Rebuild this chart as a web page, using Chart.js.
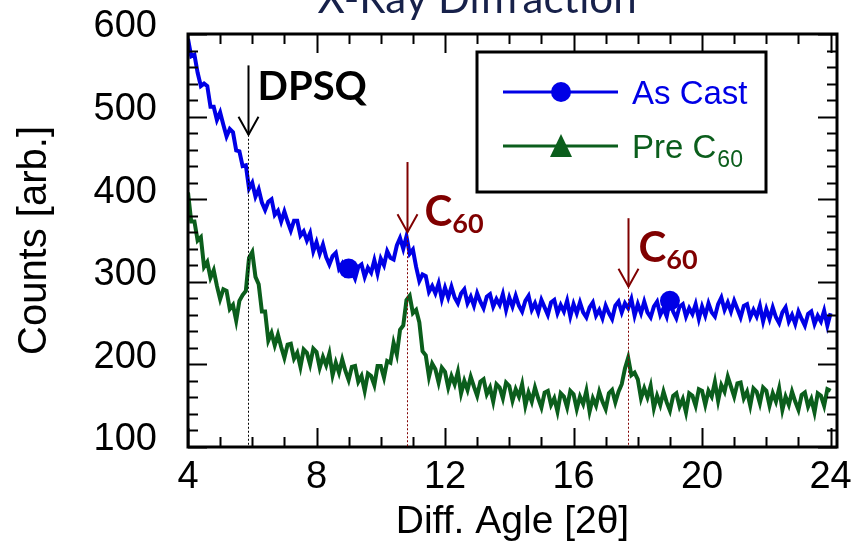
<!DOCTYPE html>
<html><head><meta charset="utf-8">
<style>html,body{margin:0;padding:0;background:#fff}#wrap{width:852px;height:546px;position:relative}</style>
<script src="https://cdn.jsdelivr.net/npm/chart.js@4.4.1/dist/chart.umd.min.js"></script>
</head><body><div id="wrap"><canvas id="c" width="852" height="546"></canvas></div>
<script>
// ---- data ----
const angles = [4,4.1,4.2,4.3,4.4,4.5,4.6,4.7,4.8,4.9,5,5.1,5.2,5.3,5.4,5.5,5.6,5.7,5.8,5.9,
6,6.1,6.2,6.3,6.4,6.5,6.6,6.7,6.8,6.9,7,7.1,7.2,7.3,7.4,7.5,7.6,7.7,7.8,7.9,
8,8.1,8.2,8.3,8.4,8.5,8.6,8.7,8.8,8.9,9,9.1,9.2,9.3,9.4,9.5,9.6,9.7,9.8,9.9,
10,10.1,10.2,10.3,10.4,10.5,10.6,10.7,10.8,10.9,11,11.1,11.2,11.3,11.4,11.5,11.6,11.7,11.8,11.9,
12,12.1,12.2,12.3,12.4,12.5,12.6,12.7,12.8,12.9,13,13.1,13.2,13.3,13.4,13.5,13.6,13.7,13.8,13.9,
14,14.1,14.2,14.3,14.4,14.5,14.6,14.7,14.8,14.9,15,15.1,15.2,15.3,15.4,15.5,15.6,15.7,15.8,15.9,
16,16.1,16.2,16.3,16.4,16.5,16.6,16.7,16.8,16.9,17,17.1,17.2,17.3,17.4,17.5,17.6,17.7,17.8,17.9,
18,18.1,18.2,18.3,18.4,18.5,18.6,18.7,18.8,18.9,19,19.1,19.2,19.3,19.4,19.5,19.6,19.7,19.8,19.9,
20,20.1,20.2,20.3,20.4,20.5,20.6,20.7,20.8,20.9,21,21.1,21.2,21.3,21.4,21.5,21.6,21.7,21.8,21.9,
22,22.1,22.2,22.3,22.4,22.5,22.6,22.7,22.8,22.9,23,23.1,23.2,23.3,23.4,23.5,23.6,23.7,23.8,23.9,24];

const asCast = [594,573,575,553,537,540,537,512,512,496,
505,490,476,485,481,459,458,440,441,413,
420,403,412,396,387,397,400,381,386,373,
385,373,362,374,374,356,361,350,359,337,
348,334,345,330,321,331,335,316,322,310,
316,313,304,318,321,306,317,311,326,310,
328,320,337,329,327,344,353,340,355,334,
339,318,301,309,307,288,295,286,298,279,
293,281,294,281,274,286,291,274,282,271,
286,276,268,282,285,270,279,272,285,266,
281,270,283,271,264,277,283,266,274,263,
278,269,260,275,278,262,272,264,277,258,
273,262,275,263,257,269,275,259,266,256,
271,262,255,271,276,263,274,268,279,259,
273,262,276,263,257,270,276,260,268,258,
277,264,256,270,273,258,268,261,273,255,
270,259,274,263,258,273,281,266,275,264,
277,267,257,271,273,257,266,258,271,252,
267,255,269,257,250,263,269,252,260,249,
264,255,247,261,264,249,259,252,265,247,
262];

const preC60 = [408,373,373,350,354,318,324,305,314,295,
279,291,289,267,272,253,277,284,289,329,
336,306,297,264,264,229,238,223,236,221,
208,224,225,207,214,197,218,214,200,219,
215,196,209,199,213,187,202,190,206,192,
181,197,198,179,186,168,189,186,175,198,
198,184,204,202,226,212,242,247,278,283,
262,266,251,216,211,185,201,194,178,196,
191,172,186,176,191,165,180,169,185,173,
162,179,182,164,172,155,176,172,159,178,
174,156,170,161,176,150,166,155,172,159,
148,166,168,151,159,143,165,161,148,168,
164,146,161,152,168,143,159,150,167,155,
146,165,169,154,167,176,195,208,187,190,
182,159,171,160,174,147,162,151,167,154,
144,162,165,149,158,142,165,162,150,170,
168,151,168,161,179,156,175,167,185,173,
161,177,178,159,167,150,171,167,153,172,
168,150,165,155,171,145,161,151,167,155,
145,163,166,149,158,142,165,162,150,170,
168];

const markerAngles = [9, 19];          // angles where the As Cast symbol is drawn
const xTickValues = [4, 8, 12, 16, 20, 24];
const yTickValues = [100, 200, 300, 400, 500, 600];
const seriesNames = ['As Cast', 'Pre C'];
const seriesSub = ['', '60'];

// peak annotations: angle, arrow top value, arrow tip value
const peakAngles = [5.87, 10.82, 17.71];
const peakTops = [562, 445, 377];
const peakTips = [478, 360, 294];
const peakLabels = ['DPSQ', 'C', 'C'];
const peakSubs = ['', '60', '60'];

// ---- styles ----
const BLUE = '#0000e6';
const GREEN = '#0b5e1c';
const DARKRED = '#800000';
const FONT = "'Liberation Sans', Arial, sans-serif";
const BOLD = "Lato, 'Open Sans', sans-serif";

const zeroPad = s => { s.paddingTop = 0; s.paddingBottom = 0; s.paddingLeft = 0; s.paddingRight = 0; };

const framePlugin = {
  id: 'frame',
  afterDatasetsDraw(chart) {
    const {ctx, chartArea: a, scales: {x, y}} = chart;
    ctx.save();
    ctx.strokeStyle = '#000';
    ctx.lineWidth = 2;
    for (let v = 4; v <= 24; v += 1) {
      const px = Math.round(x.getPixelForValue(v)) + 0.5;
      const len = (v % 4 === 0) ? 19 : 10;
      ctx.beginPath();
      ctx.moveTo(px, a.bottom); ctx.lineTo(px, a.bottom - len);
      ctx.moveTo(px, a.top); ctx.lineTo(px, a.top + len);
      ctx.stroke();
    }
    for (let v = 100; v <= 600; v += 20) {
      const py = Math.round(y.getPixelForValue(v)) + 0.5;
      const len = (v % 100 === 0) ? 19 : 10;
      ctx.beginPath();
      ctx.moveTo(a.left, py); ctx.lineTo(a.left + len, py);
      ctx.moveTo(a.right, py); ctx.lineTo(a.right - len, py);
      ctx.stroke();
    }
    ctx.lineWidth = 3;
    ctx.strokeRect(a.left, a.top, a.right - a.left, a.bottom - a.top);

    // peak annotations
    peakAngles.forEach((ang, i) => {
      const color = i === 0 ? '#000' : DARKRED;
      const px = Math.round(x.getPixelForValue(ang)) + 0.5;
      const top = y.getPixelForValue(peakTops[i]);
      const tip = y.getPixelForValue(peakTips[i]);
      ctx.strokeStyle = color;
      ctx.lineWidth = 1;
      ctx.setLineDash([2, 2]);
      ctx.beginPath(); ctx.moveTo(px, tip); ctx.lineTo(px, a.bottom); ctx.stroke();
      ctx.setLineDash([]);
      ctx.lineWidth = 2;
      ctx.beginPath(); ctx.moveTo(px, top); ctx.lineTo(px, tip); ctx.stroke();
      ctx.beginPath(); ctx.moveTo(px - 10, tip - 18); ctx.lineTo(px, tip); ctx.lineTo(px + 10, tip - 18); ctx.stroke();
      ctx.fillStyle = color;
      ctx.textBaseline = 'alphabetic';
      ctx.textAlign = 'left';
      if (i === 0) {
        ctx.font = 'bold 40px ' + BOLD;
        ctx.fillText(peakLabels[i], px + 9, tip - 35);
      } else {
        const tx = px + (i === 1 ? 17 : 10);
        const ty = tip - (i === 1 ? 6 : 25);
        ctx.font = 'bold 42px ' + BOLD;
        ctx.fillText(peakLabels[i], tx, ty);
        const w = ctx.measureText(peakLabels[i]).width;
        ctx.font = 'bold 27px ' + BOLD;
        ctx.fillText(peakSubs[i], tx + w, ty + 7);
      }
    });
    ctx.restore();
  },
  afterDraw(chart) {
    const {ctx, chartArea: a} = chart;
    ctx.save();
    // title (cut by the top edge)
    ctx.fillStyle = '#17214a';
    ctx.font = '42px Lato, sans-serif';
    ctx.textAlign = 'center';
    ctx.textBaseline = 'alphabetic';
    ctx.fillText('X-Ray Diffraction', 477, 13);

    // legend
    const L = a.left + 289, T = a.top + 18, W = 289, H = 140;
    ctx.fillStyle = '#fff';
    ctx.fillRect(L, T, W, H);
    ctx.strokeStyle = '#000';
    ctx.lineWidth = 3;
    ctx.strokeRect(L, T, W, H);
    const ds = chart.data.datasets;
    const rows = [T + 40, T + 94];
    ds.forEach((d, i) => {
      const yy = rows[i];
      ctx.strokeStyle = d.borderColor;
      ctx.lineWidth = 3;
      ctx.beginPath(); ctx.moveTo(L + 26, yy); ctx.lineTo(L + 141, yy); ctx.stroke();
      ctx.fillStyle = d.borderColor;
      const cx = L + 84;
      if (i === 0) {
        ctx.beginPath(); ctx.arc(cx, yy, 10, 0, Math.PI * 2); ctx.fill();
      } else {
        ctx.beginPath(); ctx.moveTo(cx, yy - 12); ctx.lineTo(cx - 11, yy + 11); ctx.lineTo(cx + 11, yy + 11); ctx.closePath(); ctx.fill();
      }
      ctx.font = '33px ' + FONT;
      ctx.textAlign = 'left';
      ctx.fillText(seriesNames[i], L + 155, yy + 12);
      if (seriesSub[i]) {
        const w = ctx.measureText(seriesNames[i]).width;
        ctx.font = '23px ' + FONT;
        ctx.fillText(seriesSub[i], L + 155 + w + 1, yy + 21);
      }
    });
    ctx.restore();
  }
};

new Chart(document.getElementById('c'), {
  type: 'line',
  data: {
    datasets: [
      {
        label: 'As Cast',
        data: angles.map((a, i) => ({x: a, y: asCast[i]})),
        borderColor: BLUE, backgroundColor: BLUE, borderWidth: 4,
        pointStyle: 'circle',
        pointRadius: c => markerAngles.includes(angles[c.dataIndex]) ? 10 : 0,
        pointBorderWidth: 0, pointHoverRadius: 0, tension: 0
      },
      {
        label: 'Pre C60',
        data: angles.map((a, i) => ({x: a, y: preC60[i]})),
        borderColor: GREEN, backgroundColor: GREEN, borderWidth: 4,
        pointStyle: 'triangle', pointRadius: 0, pointHoverRadius: 0, tension: 0
      }
    ]
  },
  options: {
    responsive: false, animation: false, devicePixelRatio: 1,
    layout: {autoPadding: false, padding: {left: 0, right: 15, top: 34, bottom: 0}},
    plugins: {legend: {display: false}, tooltip: {enabled: false}, title: {display: false}},
    scales: {
      x: {
        type: 'linear', min: 4, max: 24.2,
        afterBuildTicks: s => { s.ticks = xTickValues.map(v => ({value: v})); },
        afterFit: s => { s.height = 99; zeroPad(s); },
        grid: {display: false, drawTicks: false, tickLength: 0},
        border: {display: false},
        ticks: {font: {family: FONT, size: 38}, color: '#000', padding: 8, maxRotation: 0, autoSkip: false},
        title: {display: true, text: 'Diff. Agle [2θ]', font: {family: FONT, size: 39}, color: '#000', padding: {top: 0, bottom: 0}}
      },
      y: {
        min: 100, max: 600,
        afterBuildTicks: s => { s.ticks = yTickValues.map(v => ({value: v})); },
        afterFit: s => { s.width = 188; zeroPad(s); },
        grid: {display: false, drawTicks: false, tickLength: 0},
        border: {display: false},
        ticks: {font: {family: FONT, size: 38}, color: '#000', padding: 31, labelOffset: -7, autoSkip: false},
        title: {display: true, text: 'Counts [arb.]', font: {family: FONT, size: 40}, color: '#000', padding: {top: 11, bottom: 11}}
      }
    }
  },
  plugins: [framePlugin]
});
</script>
</body></html>
